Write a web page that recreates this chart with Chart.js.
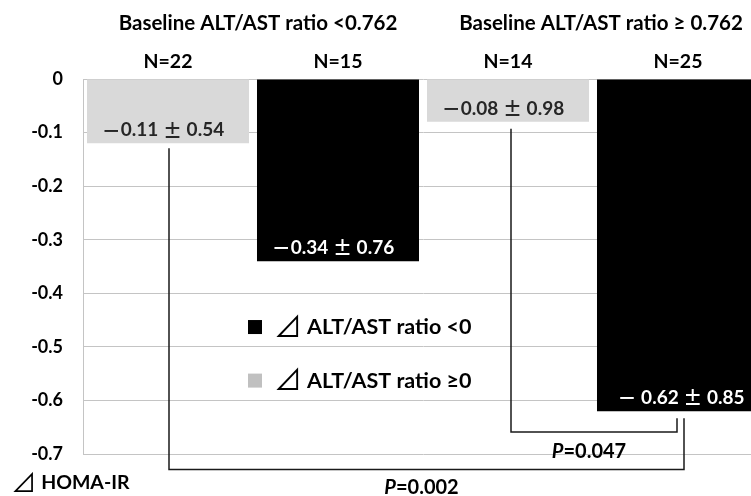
<!DOCTYPE html>
<html><head><meta charset="utf-8">
<script src="https://cdn.jsdelivr.net/npm/chart.js@4/dist/chart.umd.min.js"></script>
<style>
html,body{margin:0;padding:0;overflow:hidden;background:#fff;width:751px;height:496px}
#wrap{width:770px;height:496px;position:relative}
</style></head>
<body><div id="wrap"><canvas id="c" width="770" height="496"></canvas></div>
<script>
// ---- data ----
const categories = ['N=22', 'N=15', 'N=14', 'N=25'];
const groupTitles = ['Baseline ALT/AST ratio <0.762', 'Baseline ALT/AST ratio \u2265 0.762'];
const seriesNames = ['\u22BF ALT/AST ratio <0', '\u22BF ALT/AST ratio \u22650'];
const decreaseValues = [null, -0.34, null, -0.62];   // black series
const increaseValues = [-0.12, null, -0.08, null];   // gray series
const valueLabels = ['\uFF0D0.11 \u00B1 0.54', '\uFF0D0.34 \u00B1 0.76', '\uFF0D0.08 \u00B1 0.98', '\uFF0D 0.62 \u00B1 0.85'];
const yTickValues = [0, -0.1, -0.2, -0.3, -0.4, -0.5, -0.6, -0.7];
const pTests = [{from: 2, to: 3, p: '0.047'}, {from: 0, to: 3, p: '0.002'}];
const yAxisTitle = '\u22BF HOMA-IR';

const FONT = 'Lato, "Noto Sans CJK JP", sans-serif';
const CJK = '"Noto Sans CJK JP", sans-serif';
const BLACK = '#000000', GRAY = '#d9d9d9', LEG_GRAY = '#c0c0c0';
const WIDE = /[\uFF0D\u00B1\u22BF]/;

// draw text where full-width symbols use the CJK face
function richText(ctx, str, px, cy, size, align) {
  const parts = str.split(/([\uFF0D\u00B1\u22BF])/).filter(s => s.length);
  const segs = parts.map(s => {
    if (s === '\u22BF') return {t: s, f: (size * 1.3).toFixed(1) + 'px ' + CJK, dy: -1};
    if (WIDE.test(s)) return {t: s, f: 'bold ' + size + 'px ' + CJK, dy: 0};
    return {t: s, f: 'bold ' + size + 'px ' + FONT, dy: 0};
  });
  let total = 0;
  segs.forEach(s => { ctx.font = s.f; s.w = ctx.measureText(s.t).width; total += s.w; });
  let x0 = align === 'left' ? px : px - total / 2;
  ctx.textAlign = 'left';
  segs.forEach(s => { ctx.font = s.f; ctx.fillText(s.t, x0, cy + s.dy); x0 += s.w; });
  ctx.textAlign = 'center';
}

const overlay = {
  id: 'overlay',
  afterDraw(chart) {
    const ctx = chart.ctx, x = chart.scales.x, y = chart.scales.y, ca = chart.chartArea;
    const barOf = i => {
      const m0 = chart.getDatasetMeta(0), m1 = chart.getDatasetMeta(1);
      return decreaseValues[i] !== null ? m0.data[i] : m1.data[i];
    };
    ctx.save();
    ctx.textBaseline = 'middle';
    ctx.textAlign = 'center';
    // group titles
    ctx.fillStyle = '#000';
    ctx.font = 'bold 20.5px ' + FONT;
    [[0, 1], [2, 3]].forEach((g, k) => {
      const cx = (x.getPixelForValue(g[0]) + x.getPixelForValue(g[1])) / 2 + (k === 0 ? 5 : 8);
      ctx.fillText(groupTitles[k], cx, 23);
    });
    // value labels inside bars
    valueLabels.forEach((t, i) => {
      const b = barOf(i);
      ctx.fillStyle = decreaseValues[i] !== null ? '#ffffff' : '#262626';
      richText(ctx, t, b.x + (i === 3 ? 3 : -5), b.y - 13, 19, 'center');
    });
    // brackets
    ctx.strokeStyle = '#1a1a1a';
    ctx.lineWidth = 1.5;
    const levels = [-0.659, -0.729];
    const offs = [[3, -1], [1, 6]];
    const gaps = [[7, 7], [5, 7]];
    pTests.forEach((pt, k) => {
      const a = barOf(pt.from), b = barOf(pt.to);
      const xl = a.x + offs[k][0], xr = b.x + offs[k][1];
      const yb = y.getPixelForValue(levels[k]);
      ctx.beginPath();
      ctx.moveTo(xl, a.y + gaps[k][0]);
      ctx.lineTo(xl, yb);
      ctx.lineTo(xr, yb);
      ctx.lineTo(xr, b.y + gaps[k][1]);
      ctx.stroke();
      // P text
      const f1 = 'italic bold 20px ' + FONT, f2 = 'bold 20px ' + FONT;
      ctx.font = f1; const w1 = ctx.measureText('P').width;
      ctx.font = f2; const w2 = ctx.measureText('=' + pt.p).width;
      const cx = (xl + xr) / 2 - 5, ty = yb + (k === 0 ? 20 : 18);
      ctx.textAlign = 'left';
      ctx.fillStyle = '#000';
      ctx.font = f1; ctx.fillText('P', cx - (w1 + w2) / 2, ty);
      ctx.font = f2; ctx.fillText('=' + pt.p, cx - (w1 + w2) / 2 + w1, ty);
      ctx.textAlign = 'center';
    });
    // legend
    const lx = ca.left + 165;
    const ly = [y.getPixelForValue(-0.463), y.getPixelForValue(-0.563)];
    const lc = [BLACK, LEG_GRAY];
    seriesNames.forEach((n, k) => {
      ctx.fillStyle = lc[k];
      ctx.fillRect(lx, ly[k] - 7, 14, 14);
      ctx.fillStyle = '#000';
      richText(ctx, n, lx + 26, ly[k], 21.5, 'left');
    });
    // y axis title
    ctx.fillStyle = '#000';
    richText(ctx, yAxisTitle, 11, ca.bottom + 29, 19.5, 'left');
    ctx.restore();
  }
};

new Chart(document.getElementById('c'), {
  type: 'bar',
  data: {
    labels: categories,
    datasets: [
      {label: seriesNames[0], data: decreaseValues, backgroundColor: BLACK},
      {label: seriesNames[1], data: increaseValues, backgroundColor: GRAY}
    ]
  },
  options: {
    responsive: false,
    animation: false,
    devicePixelRatio: 1,
    skipNull: true,
    barPercentage: 0.953,
    categoryPercentage: 1,
    layout: {padding: {top: 0, right: 7, bottom: 42, left: 0}},
    plugins: {legend: {display: false}, tooltip: {enabled: false}},
    scales: {
      x: {
        position: 'top',
        grid: {display: false, drawTicks: false},
        border: {display: false},
        ticks: {color: '#000', padding: 6, font: {family: FONT, size: 19.5, weight: 'bold'}},
        afterFit: s => { s.height = 79; }
      },
      y: {
        min: -0.7, max: 0,
        afterBuildTicks: s => { s.ticks = yTickValues.map(v => ({value: v})); },
        grid: {color: '#c4c4c4', lineWidth: 1, drawTicks: false},
        border: {color: '#c4c4c4'},
        ticks: {
          color: '#000', padding: 20,
          font: {family: FONT, size: 18, weight: 'bold'},
          callback: v => Math.abs(v) < 1e-9 ? '0' : v.toFixed(1)
        },
        afterFit: s => { s.width = 83; }
      }
    }
  },
  plugins: [overlay]
});
</script>
</body></html>
